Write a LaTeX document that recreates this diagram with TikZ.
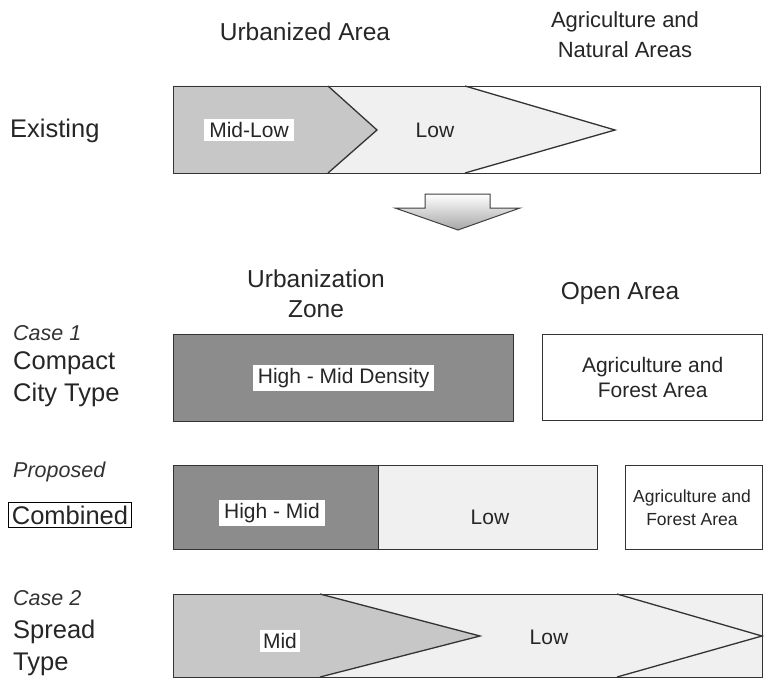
\documentclass[tikz,border=0pt]{standalone}
\usepackage{fontspec}
\setmainfont{Liberation Sans}
\begin{document}
\begin{tikzpicture}[x=1pt,y=-1pt,
  outline/.style={draw=black!80, line width=1.3pt},
  edge/.style={draw=black!80, line width=1.3pt, line join=miter},
  box/.style={outline, inner sep=0pt, anchor=north west},
  heading/.style={font=\fontsize{24.5}{30}\selectfont, align=center, text=black!85},
  rowname/.style={font=\fontsize{25.5}{32}\selectfont, anchor=west, align=left, inner sep=0pt, text=black!85},
  casename/.style={font=\fontsize{21.5}{24}\selectfont\itshape, anchor=west, inner sep=0pt, text=black!80},
  tag/.style={fill=white, inner xsep=5pt, inner ysep=3pt, font=\fontsize{21}{24}\selectfont, text=black!85},
  plain/.style={font=\fontsize{21}{25}\selectfont, align=center, text=black!85},
  narrow/.style={font=\fontsize{17.5}{23}\selectfont, align=center, text=black!85}
]
\definecolor{darkzone}{gray}{0.55}
\definecolor{midzone}{gray}{0.78}
\definecolor{lowzone}{gray}{0.94}
\useasboundingbox[fill=white] (0,0) rectangle (767,679);

% ---------- column headings ----------
\node[heading] (hUrb) at (305,32) {Urbanized Area};
\node[heading, font=\fontsize{22}{30}\selectfont] (hAgr) at (625,35) {Agriculture and\\Natural Areas};

% ---------- existing land use ----------
\node[rowname] (rExist) at (10,131) {Existing};
\fill[midzone] (173,86) -- (328,86) -- (377,130) -- (328,173) -- (173,173) -- cycle;
\fill[lowzone] (328,86) -- (465,86) -- (615,130) -- (465,173) -- (328,173) -- (377,130) -- cycle;
\draw[edge] (328,86) -- (377,130) -- (328,173);
\draw[edge] (465,86) -- (615,130) -- (465,173);
\node[box, minimum width=587pt, minimum height=87pt] (exist) at (173,86) {};
\node[tag] (tMidLow) at (249,130) {Mid-Low};
\node[plain] (tLowA) at (435,130) {Low};

% ---------- transition arrow ----------
\shade[top color=white, bottom color=black!35, draw=black!75, line width=1pt, line join=miter]
  (425,194) -- (490,194) -- (490,208) -- (520,208) -- (458,230) -- (395,208) -- (425,208) -- cycle;

% ---------- lower headings ----------
\node[heading] (hZone) at (316,294) {Urbanization\\Zone};
\node[heading] (hOpen) at (620,293) {Open Area};

% ---------- case 1 ----------
\node[casename] (case1) at (13,333) {Case 1};
\node[rowname] (rCompact) at (13,379) {Compact\\City Type};
\node[box, fill=darkzone, minimum width=340pt, minimum height=87pt] (c1urb) at (173,334) {};
\node[tag] (tHighMid) at (c1urb.center) {High - Mid Density};
\node[box, minimum width=220pt, minimum height=86pt] (c1open) at (542,334) {};
\node[plain] (tAgri1) at (c1open.center) {Agriculture and\\Forest Area};

% ---------- proposed ----------
\node[casename] (prop) at (13,472) {Proposed};
\node[draw=black, line width=1pt, inner sep=3pt, font=\fontsize{25.5}{30}\selectfont, text=black!85] (comb) at (70,515) {Combined};
\node[box, fill=darkzone, minimum width=205pt, minimum height=84pt] (pHigh) at (173,465) {};
\node[box, fill=lowzone, minimum width=219pt, minimum height=84pt] (pLow) at (378,465) {};
\node[tag] (tHM) at (272,513) {High - Mid};
\node[plain] (tLowP) at (490,517) {Low};
\node[box, minimum width=137pt, minimum height=84pt] (pOpen) at (625,465) {};
\node[narrow] (tAgri2) at (692,508) {Agriculture and\\Forest Area};

% ---------- case 2 ----------
\node[casename] (case2) at (13,598) {Case 2};
\node[rowname] (rSpread) at (13,648) {Spread\\Type};
\fill[midzone] (173,594) -- (320,594) -- (480,636) -- (320,677) -- (173,677) -- cycle;
\fill[lowzone] (320,594) -- (762,594) -- (762,677) -- (320,677) -- (480,636) -- cycle;
\draw[edge] (320,594) -- (480,636) -- (320,677);
\draw[edge] (617,594) -- (762,636) -- (617,677);
\node[box, minimum width=589pt, minimum height=83pt] (spread) at (173,594) {};
\node[tag, inner xsep=3pt] (tMid) at (280,641) {Mid};
\node[plain] (tLowS) at (549,637) {Low};
\end{tikzpicture}
\end{document}
